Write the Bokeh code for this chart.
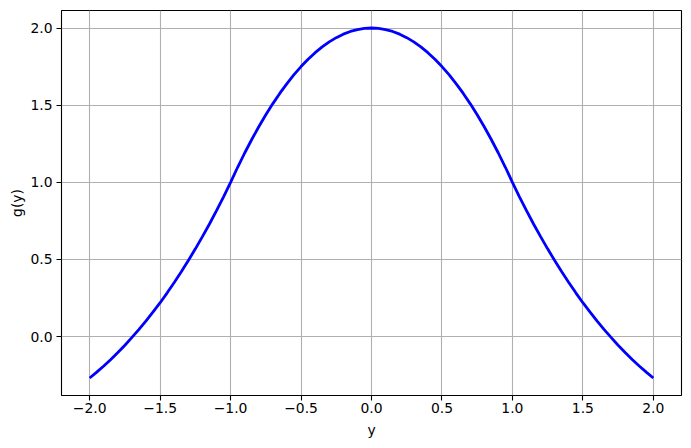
from bokeh.plotting import figure
from bokeh.models import Range1d, FixedTicker
from bokeh.embed import file_html
from bokeh.resources import INLINE

# y values (step 0.05)
y_vals = [-2.0, -1.95, -1.9, -1.85, -1.8, -1.75, -1.7, -1.65, -1.6, -1.55,
          -1.5, -1.45, -1.4, -1.35, -1.3, -1.25, -1.2, -1.15, -1.1, -1.05,
          -1.0, -0.95, -0.9, -0.85, -0.8, -0.75, -0.7, -0.65, -0.6, -0.55,
          -0.5, -0.45, -0.4, -0.35, -0.3, -0.25, -0.2, -0.15, -0.1, -0.05,
          0.0, 0.05, 0.1, 0.15, 0.2, 0.25, 0.3, 0.35, 0.4, 0.45,
          0.5, 0.55, 0.6, 0.65, 0.7, 0.75, 0.8, 0.85, 0.9, 0.95,
          1.0, 1.05, 1.1, 1.15, 1.2, 1.25, 1.3, 1.35, 1.4, 1.45,
          1.5, 1.55, 1.6, 1.65, 1.7, 1.75, 1.8, 1.85, 1.9, 1.95, 2.0]

# g(y) values
g_vals = [-0.268, -0.230, -0.190, -0.148, -0.103, -0.056, -0.005, 0.047, 0.102, 0.160,
          0.220, 0.284, 0.351, 0.420, 0.493, 0.569, 0.648, 0.730, 0.816, 0.906,
          1.0, 1.0975, 1.19, 1.2775, 1.36, 1.4375, 1.51, 1.5775, 1.64, 1.6975,
          1.75, 1.7975, 1.84, 1.8775, 1.91, 1.9375, 1.96, 1.9775, 1.99, 1.9975,
          2.0, 1.9975, 1.99, 1.9775, 1.96, 1.9375, 1.91, 1.8775, 1.84, 1.7975,
          1.75, 1.6975, 1.64, 1.5775, 1.51, 1.4375, 1.36, 1.2775, 1.19, 1.0975,
          1.0, 0.906, 0.816, 0.730, 0.648, 0.569, 0.493, 0.420, 0.351, 0.284,
          0.220, 0.160, 0.102, 0.047, -0.005, -0.056, -0.103, -0.148, -0.190, -0.230, -0.268]

x_ticks = [-2.0, -1.5, -1.0, -0.5, 0.0, 0.5, 1.0, 1.5, 2.0]
x_tick_labels = ["\u22122.0", "\u22121.5", "\u22121.0", "\u22120.5", "0.0", "0.5", "1.0", "1.5", "2.0"]
y_ticks = [0.0, 0.5, 1.0, 1.5, 2.0]
y_tick_labels = ["0.0", "0.5", "1.0", "1.5", "2.0"]

FONT = "DejaVu Sans"
FS = "13.9px"

p = figure(width=683, height=440, output_backend="svg", toolbar_location=None,
           x_range=Range1d(-2.2, 2.2), y_range=Range1d(-0.3814, 2.1134),
           min_border_left=61, min_border_right=2, min_border_top=10, min_border_bottom=45)

p.line(y_vals, g_vals, line_color="blue", line_width=2.8)

p.outline_line_color = "black"
p.outline_line_width = 1.1
p.outline_line_alpha = 1.0

for ax in (p.xaxis[0], p.yaxis[0]):
    ax.axis_line_color = None
    ax.major_tick_line_color = "black"
    ax.major_tick_line_width = 1.1
    ax.major_tick_out = 5
    ax.major_tick_in = 0
    ax.minor_tick_line_color = None
    ax.major_label_text_font = FONT
    ax.major_label_text_font_size = FS
    ax.major_label_text_color = "black"
    ax.axis_label_text_font = FONT
    ax.axis_label_text_font_size = FS
    ax.axis_label_text_font_style = "normal"
    ax.axis_label_text_color = "black"

p.xaxis[0].major_label_standoff = 2
p.yaxis[0].major_label_standoff = 4
p.xaxis[0].ticker = FixedTicker(ticks=x_ticks)
p.xaxis[0].major_label_overrides = dict(zip(x_ticks, x_tick_labels))
p.yaxis[0].ticker = FixedTicker(ticks=y_ticks)
p.yaxis[0].major_label_overrides = dict(zip(y_ticks, y_tick_labels))
p.xaxis[0].axis_label = "y"
p.yaxis[0].axis_label = "g(y)"
p.xaxis[0].axis_label_standoff = 6
p.yaxis[0].axis_label_standoff = 2

p.xgrid[0].grid_line_color = "#b0b0b0"
p.ygrid[0].grid_line_color = "#b0b0b0"
p.xgrid[0].grid_line_width = 1.1
p.ygrid[0].grid_line_width = 1.1
p.xgrid[0].ticker = FixedTicker(ticks=x_ticks)
p.ygrid[0].ticker = FixedTicker(ticks=y_ticks)

open("out.html", "w").write(file_html(p, INLINE))
